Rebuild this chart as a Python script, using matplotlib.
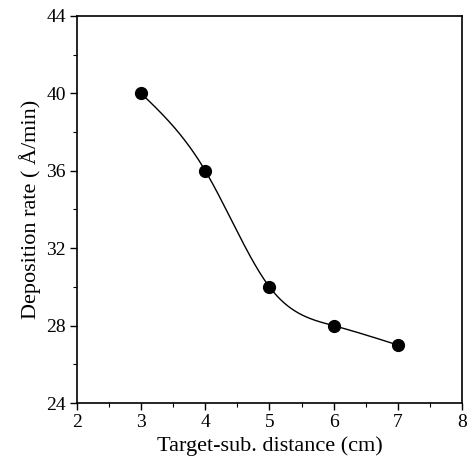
import numpy as np
import matplotlib
matplotlib.use('Agg')
import matplotlib.pyplot as plt
from matplotlib.ticker import MultipleLocator

# data
dist = np.array([3, 4, 5, 6, 7])          # target-substrate distance (cm)
rate = np.array([40, 36, 30, 28, 27])     # deposition rate (A/min)
xticks = [2, 3, 4, 5, 6, 7, 8]
yticks = [24, 28, 32, 36, 40, 44]

def natural_spline(x, y, xs):
    # natural cubic spline through the points
    n = len(x)
    h = np.diff(x).astype(float)
    A = np.zeros((n, n))
    b = np.zeros(n)
    A[0, 0] = 1
    A[-1, -1] = 1
    for i in range(1, n-1):
        A[i, i-1] = h[i-1]
        A[i, i] = 2*(h[i-1]+h[i])
        A[i, i+1] = h[i]
        b[i] = 6*((y[i+1]-y[i])/h[i] - (y[i]-y[i-1])/h[i-1])
    M = np.linalg.solve(A, b)
    ys = np.empty_like(xs)
    for k, xv in enumerate(xs):
        i = min(np.searchsorted(x, xv, side='right')-1, n-2)
        t0 = x[i+1]-xv
        t1 = xv-x[i]
        ys[k] = (M[i]*t0**3 + M[i+1]*t1**3)/(6*h[i]) \
            + (y[i]/h[i] - M[i]*h[i]/6)*t0 + (y[i+1]/h[i] - M[i+1]*h[i]/6)*t1
    return ys

xs = np.linspace(dist[0], dist[-1], 300)
ys = natural_spline(dist.astype(float), rate.astype(float), xs)

plt.rcParams['font.family'] = ['Liberation Serif', 'DejaVu Serif']

fig = plt.figure(figsize=(4.69, 4.66), dpi=100)
ax = fig.add_axes([0.164, 0.135, 0.821, 0.831])

ax.plot(xs, ys, '-', color='black', lw=1.0)
ax.plot(dist, rate, 'o', color='black', ms=8.5)

ax.set_xlim(2, 8)
ax.set_ylim(24, 44)
ax.set_xticks(xticks)
ax.set_yticks(yticks)
ax.xaxis.set_minor_locator(MultipleLocator(0.5))
ax.yaxis.set_minor_locator(MultipleLocator(2))
ax.tick_params(which='major', direction='out', length=5, width=1, labelsize=14, pad=3)
ax.tick_params(which='minor', direction='out', length=3, width=0.8)
for s in ax.spines.values():
    s.set_linewidth(1.2)

ax.set_xlabel('Target-sub. distance (cm)', fontsize=16, labelpad=4)
ax.set_ylabel('Deposition rate ( Å/min)', fontsize=16, labelpad=4)

fig.savefig('out.png', dpi=100)
